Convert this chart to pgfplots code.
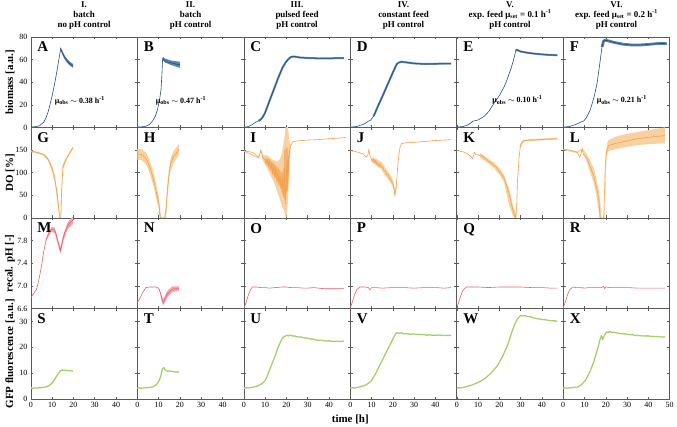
\documentclass[border=0pt]{standalone}
\usepackage{fontspec}
\setmainfont{Liberation Serif}
\usepackage{pgfplots}
\pgfplotsset{compat=1.18}
\usepgfplotslibrary{groupplots}

\definecolor{bmL}{HTML}{24507E}
\definecolor{bmB}{HTML}{5A83AD}
\definecolor{doL}{HTML}{F2A04A}
\definecolor{doB}{HTML}{F9D1A0}
\definecolor{phL}{HTML}{E3606E}
\definecolor{phB}{HTML}{F3A7AF}
\definecolor{gfL}{HTML}{98C656}
\definecolor{gfB}{HTML}{C6E09C}
\definecolor{axc}{HTML}{5A5A5A}

\tikzset{
  letter/.style={anchor=north west, inner sep=0pt, font=\fontsize{15}{15}\selectfont\bfseries},
  mu/.style={font=\fontsize{8}{9}\selectfont\bfseries},
}
\pgfplotsset{
  mline/.style={line width=0.6pt},
  bandl/.style={line width=2pt, line join=round},
  bandf/.style={draw=none, fill=#1},
  rowA/.style={ymin=0, ymax=80, ytick={0,20,40,60,80}},
  rowB/.style={ymin=0, ymax=200, ytick={0,50,100,150}},
  rowC/.style={ymin=6.6, ymax=8.2, ytick={6.6,7.0,7.4,7.8},
    yticklabel style={/pgf/number format/.cd, fixed, fixed zerofill, precision=1}},
  rowD/.style={ymin=0, ymax=35, ytick={0,10,20,30}},
}

\begin{document}
\begin{tikzpicture}
\begin{groupplot}[
  group style={group size=6 by 4, horizontal sep=0pt, vertical sep=0pt,
    x descriptions at=edge bottom, y descriptions at=edge left},
  width=107pt, height=91pt, scale only axis,
  xmin=0, xmax=50, xtick={0,10,20,30,40},
  axis line style={axc, line width=0.6pt},
  tick style={axc, line width=0.5pt},
  major tick length=2.5pt, tick align=inside,
  ticklabel style={font=\fontsize{8}{9}\selectfont},
  /pgf/number format/assume math mode=true,
  title style={font=\fontsize{9}{10}\selectfont\bfseries, align=center, inner sep=1.5pt},
  ylabel style={font=\fontsize{11}{12}\selectfont\bfseries, at={(axis description cs:-0.195,0.5)}, anchor=center},
  every axis plot/.append style={no marks},
]
% ================= ROW 1: biomass =================
\nextgroupplot[rowA, title={I.\\batch\\no pH control}, ylabel={biomass [a.u.]}]
\addplot[bandf=bmB] coordinates {(13.8,68.5)(14,70.8)(15,66.8)(16,63.2)(17,60.5)(18,58.5)(19.8,56.0)(19.8,52.6)(18,55.1)(17,57.1)(16,59.8)(15,63.2)(14,68.2)};
\addplot[mline, bmL] coordinates {(0,0.3)(2,0.6)(4,1.4)(6,4.5)(7,8)(8,13)(9,20)(10,28)(11,37)(12,47)(13,58)(13.7,66)(14,69.5)(14.3,68)(15,65)(16,61.5)(17,58.8)(18,56.8)(19,55.2)(19.8,54.3)};
\node[letter] at (rel axis cs:0.06,0.945) {A};
\node[mu] at (axis cs:23,23.5) {μ\textsubscript{obs} $\sim$ 0.38 h\textsuperscript{-1}};

\nextgroupplot[rowA, title={II.\\batch\\pH control}]
\addplot[bandf=bmB] coordinates {(11.8,58)(12,62.3)(13,60.8)(16,59)(20,58)(20,52.6)(16,55)(13,57.3)(12,59.3)};
\addplot[mline, bmL] coordinates {(0,0.3)(2,0.5)(4,1)(6,3)(7.2,5.8)(8.5,10)(9.5,16)(10.5,25)(11.1,33)(11.5,45)(11.8,58)(12,61)(12.5,59.5)(14,58)(16,57)(18,56)(20,55.3)};
\node[letter] at (rel axis cs:0.06,0.945) {B};
\node[mu] at (axis cs:20.5,23.5) {μ\textsubscript{obs} $\sim$ 0.47 h\textsuperscript{-1}};

\nextgroupplot[rowA, title={III.\\pulsed feed\\pH control}]
\addplot[bandl, bmB] coordinates {(7,5.8)(8,7)(9,9.5)(10,13)(12,23)(14,33)(16,43)(18,52)(19.5,57)(21,60.5)(22,62)(23,62.6)(24,62.5)(26,61.8)(30,61.3)(35,61)(40,61)(45,61.2)(47,61.2)};
\addplot[mline, bmL] coordinates {(0,0.2)(2,0.6)(4,2.5)(5.5,4.5)(7,5.8)(8,7)(9,9.5)(10,13)(12,23)(14,33)(16,43)(18,52)(19.5,57)(21,60.5)(22,62)(23,62.6)(24,62.5)(26,61.8)(30,61.3)(35,61)(40,61)(45,61.2)(47,61.2)};
\node[letter] at (rel axis cs:0.06,0.945) {C};

\nextgroupplot[rowA, title={IV.\\constant feed\\pH control}]
\addplot[bandl, bmB] coordinates {(11,10)(13,18.8)(15,27)(17.8,39)(20,48.5)(21.7,55.5)(22.5,57)(24,58)(26,57.5)(30,56.5)(35,56)(40,56.2)(45,56.3)(47.4,56.3)};
\addplot[mline, bmL] coordinates {(0,0.2)(3,0.8)(5,2)(7,3.5)(8.5,5.5)(9.5,6.3)(11,10)(13,18.8)(15,27)(17.8,39)(20,48.5)(21.7,55.5)(22.5,57)(24,58)(26,57.5)(30,56.5)(35,56)(40,56.2)(45,56.3)(47.4,56.3)};
\node[letter] at (rel axis cs:0.06,0.945) {D};

\nextgroupplot[rowA, title={V.\\exp. feed μ\textsubscript{set} = 0.1 h\textsuperscript{-1}\\pH control}]
\addplot[bandl, bmB] coordinates {(27.7,68)(28.3,68.5)(30,67)(33,66)(37,65)(42,64.2)(47.2,63.7)};
\addplot[mline, bmL] coordinates {(0,0.2)(3,0.8)(5,2)(6.7,4)(7.5,5.5)(8.3,5.8)(10,6.5)(13,10)(15,14)(17.6,21.7)(20,28)(22.3,36)(24,44)(24.6,47.5)(25.5,52)(26.2,56.5)(27,62)(27.7,68)(28.3,68.5)(30,67)(33,66)(37,65)(42,64.2)(47.2,63.7)};
\node[letter] at (rel axis cs:0.06,0.945) {E};
\node[mu] at (axis cs:28.5,24) {μ\textsubscript{obs} $\sim$ 0.10 h\textsuperscript{-1}};

\nextgroupplot[rowA, title={VI.\\exp. feed μ\textsubscript{set} = 0.2 h\textsuperscript{-1}\\pH control}, xtick={0,10,20,30,40,50}]
\addplot[bandl, bmB, line width=2.8pt] coordinates {(18.2,71)(19,76.5)(20,77)(22,76)(24,75)(28,73.5)(32,72.8)(36,72.8)(40,73.3)(44,74)(48.6,74.2)};
\addplot[mline, bmL] coordinates {(0,0.2)(3,0.8)(5,2)(6.5,3)(8,4.5)(9.7,5.8)(11,9)(12.8,16)(14.5,27)(15.9,39)(17,54)(18.2,71)(19,76.5)(20,77)(22,76)(24,75)(28,73.5)(32,72.8)(36,72.8)(40,73.3)(44,74)(48.6,74.2)};
\node[letter] at (rel axis cs:0.06,0.945) {F};
\node[mu] at (axis cs:27.5,24) {μ\textsubscript{obs} $\sim$ 0.21 h\textsuperscript{-1}};

% ================= ROW 2: DO =================
\nextgroupplot[rowB, ylabel={DO [\%]}]
\addplot[bandf=doB] coordinates {(0,149)(5,144)(8,133)(10,115)(11.2,95)(12.5,55)(13.4,15)(13.7,0)(14.0,0)(14.2,50)(15,118)(17.4,140)(19.8,158)(19.8,152)(17.4,134)(15,106)(14.4,30)(14.2,0)(13.5,0)(12.5,30)(11.2,79)(10,101)(8,127)(5,140)(0,145)};
\addplot[mline, doL] coordinates {(0,147)(2,146)(4,143)(5.8,141)(7,136)(8,130)(8.9,123)(10,108)(11.2,87)(12,65)(12.8,35)(13.3,12)(13.6,0)(14.1,0)(14.3,40)(14.7,85)(15.1,113)(16,125)(17.4,137)(18.5,146)(19.8,155)};
\node[letter] at (rel axis cs:0.06,0.945) {G};

\nextgroupplot[rowB]
\addplot[bandf=doB] coordinates {(0,153)(2,152)(4,145)(5.6,130)(7,110)(8,94)(9,70)(10,50)(11.2,0)(13.0,0)(13.6,40)(14.2,80)(15,112)(15.7,133)(17,148)(18.1,154)(19.6,164)(19.6,140)(18.1,128)(17,122)(15.7,106)(15,88)(14.2,48)(13.6,0)(10.4,0)(10,20)(9,40)(8,64)(7,80)(5.6,102)(4,119)(2,128)(0,129)};
\addplot[mline, doL] coordinates {(0,141)(2,140)(4,132)(5.6,116)(7,95)(7.9,79)(9,55)(10,35)(10.8,0)(12.8,0)(13.4,15)(14.2,64)(15,100)(15.7,120)(17,136)(18.1,141)(19.6,152)};
\node[letter] at (rel axis cs:0.06,0.945) {H};

\nextgroupplot[rowB]
\addplot[bandf=doB] coordinates {(0,149)(7,135)(8,151)(9,138)(10,138)(11,138)(12,135)(13,130)(14,128)(15,125)(16,125)(17,130)(18,145)(19,175)(19.8,205)(20.5,205)(21,190)(21.5,168)(22,163)(22,150)(21.5,130)(21,60)(20.5,20)(20,0)(19.5,5)(19,15)(18,25)(17,40)(16,55)(15,68)(14,80)(13,90)(12,100)(11,110)(10,118)(9,126)(8,148)(7,131)(0,146)};
\addplot[bandf=doL, fill opacity=0.6] coordinates {(10,133)(12,129)(14,121)(16,111)(17,105)(18,99)(18.8,112)(19,150)(20.5,156)(21,140)(21.3,100)(21.3,95)(20.5,60)(19.5,50)(19,40)(18,55)(17,70)(16,80)(14,95)(12,110)(10,122)};
\addplot[mline, doL] coordinates {(0,148)(3,146)(5,143)(6.5,136)(7,133)(7.5,140)(8,150)(8.5,142)(9,132)(10,128)(10.5,122)(11,128)(11.5,115)(12,125)(12.5,108)(13,120)(13.5,100)(14,115)(14.5,92)(15,108)(15.5,85)(16,100)(16.5,75)(17,95)(17.5,65)(18,90)(18.5,50)(19,110)(19.5,30)(20,120)(20.3,60)(20.7,140)(21,100)(21.5,150)(22,160)(23,168)(25,170)(30,172)(35,173)(40,175)(44,176)(48,178)};
\node[letter] at (rel axis cs:0.06,0.945) {I};

\nextgroupplot[rowB]
\addplot[bandf=doB] coordinates {(10,134)(12,131)(14.6,124)(16,114)(17.8,102)(19,93)(20.1,83)(21,62)(21.6,76)(21.6,64)(21,44)(20.1,68)(19,77)(17.8,86)(16,96)(14.6,108)(12,117)(10,124)};
\addplot[mline, doL] coordinates {(0,149)(3,146)(6,141.6)(7.6,134)(8.3,140)(8.7,151)(9.2,138)(10,129)(10.5,124)(11,130)(11.5,122)(12,127)(12.5,118)(13,122)(13.5,113)(14,119)(14.6,112)(15.2,113)(16,103)(16.6,104)(17.2,95)(17.8,96)(18.4,87)(19,85)(19.6,79)(20.1,76)(20.6,60)(20.9,52)(21.3,58)(21.6,71)(22.2,110)(22.8,138)(23.3,155)(24,164)(26,166)(30,167)(35,169)(40,171)(47.4,173)};
\node[letter] at (rel axis cs:0.06,0.945) {J};

\nextgroupplot[rowB]
\addplot[bandf=doB] coordinates {(11,143)(15,130)(17.6,122)(20,110)(22.3,94)(24,72)(25,58)(26,35)(27,18)(28,10)(28,0)(27,0)(26,10)(25,22)(24,40)(22.3,78)(20,96)(17.6,110)(15,120)(11,133)};
\addplot[bandl, doB, line width=1.8pt] coordinates {(29.8,156)(30.5,166)(31.6,171)(35,172)(40,173.5)(47.2,175)};
\addplot[mline, doL] coordinates {(0,149)(3,146)(5.1,141.6)(6.5,136)(7.5,131)(8.3,145)(9,139)(10,140)(11.4,136)(12,138)(13,131)(14,130)(15,124)(16,122)(17.6,115)(18.5,113)(20,102)(21,97)(22.3,86.6)(23.5,70)(24.6,53.5)(25.5,35)(26.2,20)(27.2,5)(27.7,0)(28.1,20)(28.5,79)(29.2,130)(29.8,156)(30.5,166)(31.6,171)(35,172)(40,173.5)(47.2,175)};
\node[letter] at (rel axis cs:0.06,0.945) {K};

\nextgroupplot[rowB, xtick={0,10,20,30,40,50}]
\addplot[bandf=doB] coordinates {(0,152)(6.5,147)(9,154)(11.2,140)(12.5,128)(14.3,110)(15.5,88)(16.7,62)(17.5,30)(18,0)(19.3,0)(19.6,90)(20,140)(20.5,163)(21.3,172)(25,180)(30,186)(35,190)(40,194)(47.8,200)(47.8,165)(40,163)(35,161)(30,157)(25,152)(21.3,148)(20.5,138)(20,106)(19.7,40)(19.5,0)(17,0)(16.5,20)(15.5,52)(14.3,78)(12.5,102)(11.2,122)(9,151)(6.5,143)(0,150)};
\addplot[mline, doL] coordinates {(0,151)(3,150)(6.5,145)(7.8,134)(8.4,143)(8.9,152.6)(9.5,140)(11.2,131)(12.5,115)(14.3,94)(15.5,70)(16.7,42.6)(17.2,10)(17.4,0)(19,0)(19.4,60)(19.8,123)(20.5,150)(21.3,160)(25,165)(30,170)(34.6,175)(40,178)(47.8,182)};
\node[letter] at (rel axis cs:0.06,0.945) {L};

% ================= ROW 3: pH =================
\nextgroupplot[rowC, ylabel={recal. pH [-]}]
\addplot[bandf=phB] coordinates {(7,7.82)(9.7,8.04)(11.2,8.03)(12.8,7.82)(13.9,7.68)(15.1,7.89)(17.4,8.13)(19.8,8.23)(19.8,8.09)(17.4,8.01)(15.1,7.77)(13.9,7.56)(12.8,7.72)(11.2,7.93)(9.7,7.96)(7,7.78)};
\addplot[mline, phL] coordinates {(0,6.79)(1,6.85)(2.7,6.94)(4,7.15)(5,7.35)(6,7.6)(7.3,7.83)(8.5,7.95)(9.7,8.0)(10.5,8.0)(11.2,7.98)(12,7.9)(12.8,7.77)(13.9,7.62)(14.5,7.72)(15.1,7.83)(16,7.95)(17.4,8.07)(18.5,8.12)(19.8,8.16)};
\node[letter] at (rel axis cs:0.06,0.945) {M};

\nextgroupplot[rowC]
\addplot[bandf=phB] coordinates {(10.3,6.95)(11.8,6.79)(12.3,6.77)(14.2,6.92)(16.5,6.99)(19.6,6.99)(19.6,6.91)(16.5,6.89)(14.2,6.80)(12.3,6.66)(11.8,6.68)(10.3,6.93)};
\addplot[mline, phL] coordinates {(0,6.70)(1.2,6.78)(2.5,6.88)(4,6.97)(6,6.98)(8.7,6.98)(9.5,6.97)(10.3,6.94)(11,6.85)(11.8,6.73)(12.3,6.71)(13,6.78)(14.2,6.86)(15.5,6.91)(16.5,6.94)(18,6.95)(19.6,6.95)};
\node[letter] at (rel axis cs:0.06,0.945) {N};

\nextgroupplot[rowC]
\addplot[mline, phL] coordinates {(0,6.6)(1,6.7)(2,6.82)(3,6.92)(4,6.98)(6,6.98)(8,6.97)(10,6.97)(12,6.96)(15,6.97)(18,6.98)(20,6.98)(22,6.97)(25,6.97)(28,6.96)(30,6.96)(33,6.97)(35,6.96)(38,6.95)(40,6.95)(44,6.95)(47,6.95)};
\node[letter] at (rel axis cs:0.06,0.945) {O};

\nextgroupplot[rowC]
\addplot[mline, phL] coordinates {(0,6.61)(1,6.72)(2,6.84)(3,6.93)(4.5,6.98)(7,6.98)(8.5,6.97)(9.2,6.93)(10,6.97)(12,6.97)(15,6.96)(20,6.97)(25,6.97)(30,6.96)(35,6.97)(40,6.97)(44,6.96)(47.4,6.97)};
\node[letter] at (rel axis cs:0.06,0.945) {P};

\nextgroupplot[rowC]
\addplot[mline, phL] coordinates {(0,6.61)(1,6.72)(2,6.84)(3,6.93)(4.5,6.98)(10,6.98)(15,6.97)(20,6.98)(25,6.98)(30,6.98)(35,6.97)(40,6.97)(44,6.96)(47.2,6.96)};
\node[letter] at (rel axis cs:0.06,0.945) {Q};

\nextgroupplot[rowC, xtick={0,10,20,30,40,50}]
\addplot[mline, phL] coordinates {(0,6.61)(1,6.72)(2,6.84)(3,6.93)(4.5,6.98)(6,6.97)(8,6.97)(10,6.96)(12,6.97)(15,6.97)(18,6.97)(19,6.99)(19.5,6.95)(20,6.98)(22,6.97)(25,6.97)(30,6.97)(35,6.96)(40,6.96)(44,6.96)(47.8,6.96)};
\node[letter] at (rel axis cs:0.06,0.945) {R};

% ================= ROW 4: GFP =================
\nextgroupplot[rowD, ylabel={GFP fluorescence [a.u.]}]
\addplot[bandl, gfB, line width=1.4pt] coordinates {(0,4.2)(3,4.3)(5,4.4)(7.3,4.7)(9,5.5)(10.4,6.6)(11.5,8)(12.8,9.8)(14,11)(15,11.2)(17,11)(19.8,10.8)};
\addplot[mline, gfL] coordinates {(0,4.2)(1,4.0)(2,4.4)(3,4.2)(4,4.5)(5,4.3)(6,4.6)(7.3,4.7)(8,5.0)(9,5.5)(10.4,6.6)(11.5,8)(12.8,9.8)(14,11)(14.7,11.3)(15.3,10.9)(16,11.3)(17,10.9)(18,11.2)(19,10.8)(19.8,10.9)};
\node[letter] at (rel axis cs:0.06,0.945) {S};

\nextgroupplot[rowD]
\addplot[bandl, gfB, line width=1.4pt] coordinates {(0,4.2)(4,4.3)(7.2,4.7)(9,5.6)(10.3,7.2)(11.2,9.5)(11.8,11.7)(12.4,12.2)(13,11.4)(14.2,10.8)(16,10.7)(18,10.5)(19.6,10.4)};
\addplot[mline, gfL] coordinates {(0,4.2)(1,4.4)(2,4.1)(3,4.4)(4,4.3)(5,4.5)(6,4.5)(7.2,4.7)(8,5.0)(9,5.6)(10.3,7.2)(11.2,9.5)(11.8,11.7)(12.4,12.2)(13,11.4)(13.6,11.0)(14.2,10.8)(15,11.0)(16,10.6)(17,10.8)(18,10.4)(19,10.6)(19.6,10.4)};
\node[letter] at (rel axis cs:0.06,0.945) {T};

\nextgroupplot[rowD]
\addplot[bandl, gfB, line width=1.4pt] coordinates {(0,4.2)(3,4.4)(5,4.7)(7,5.3)(9,6.3)(10.1,7.2)(12,11)(14.8,16.9)(16,19.8)(17.9,23.3)(19,24.2)(20.2,24.6)(22,24.6)(25.6,24)(30,23.5)(35,22.7)(40,22.4)(44,22.3)(47,22.4)};
\addplot[mline, gfL] coordinates {(0,4.2)(1,4.5)(2,4.2)(3,4.5)(4,4.4)(5,4.8)(6,4.7)(7,5.3)(8,5.6)(9,6.3)(10.1,7.2)(12,11)(14.8,16.9)(16,19.8)(17.9,23.3)(19,24.2)(20.2,24.6)(21,24.3)(22,24.8)(23,24.3)(24,24.4)(25.6,24)(27,24.1)(28,23.6)(30,23.6)(31,23.2)(33,23.2)(35,22.7)(36,22.9)(38,22.4)(40,22.6)(42,22.2)(44,22.4)(45,22.1)(47,22.4)};
\node[letter] at (rel axis cs:0.06,0.945) {U};

\nextgroupplot[rowD]
\addplot[bandl, gfB, line width=1.4pt] coordinates {(0,4.2)(3,4.4)(6.9,5.3)(9,6.4)(10,7.2)(12,10)(14.6,14.3)(17,18.3)(19.3,22)(20.5,24)(21.6,25.6)(24,25.5)(27,25.2)(32,25)(37,24.8)(42,24.7)(47.4,24.6)};
\addplot[mline, gfL] coordinates {(0,4.2)(1,4.5)(2,4.2)(3,4.5)(4,4.6)(5,4.8)(6.9,5.3)(8,5.8)(9,6.4)(10,7.2)(12,10)(14.6,14.3)(17,18.3)(19.3,22)(20.5,24)(21.6,25.6)(23,25.3)(24,25.7)(25,25.1)(27,25.4)(28,24.9)(30,25.2)(32,24.9)(34,25.0)(36,24.6)(37,24.9)(39,24.5)(42,24.8)(44,24.4)(46,24.7)(47.4,24.6)};
\node[letter] at (rel axis cs:0.06,0.945) {V};

\nextgroupplot[rowD]
\addplot[bandl, gfB, line width=1.4pt] coordinates {(0,4.2)(3,4.5)(6.7,5.3)(10,6.4)(13,7.8)(16,10)(19.2,13)(21.5,16.5)(23.8,20.7)(25.5,25)(27,28.5)(28.5,31)(30,32.3)(32,32.2)(34.7,31.7)(38,31)(42,30.5)(47.2,30)};
\addplot[mline, gfL] coordinates {(0,4.2)(1,4.5)(2,4.2)(3,4.6)(4,4.6)(5,5.0)(6.7,5.3)(8,5.7)(10,6.4)(11.5,7.0)(13,7.8)(14.5,8.8)(16,10)(17.5,11.3)(19.2,13)(21.5,16.5)(23.8,20.7)(25.5,25)(27,28.5)(28.5,31)(30,32.3)(31,32.0)(32,32.4)(33,31.8)(34.7,31.9)(36,31.3)(38,31.2)(40,30.7)(42,30.7)(44,30.2)(46,30.4)(47.2,30)};
\node[letter] at (rel axis cs:0.06,0.945) {W};

\nextgroupplot[rowD, xtick={0,10,20,30,40,50}]
\addplot[bandl, gfB, line width=1.4pt] coordinates {(0,4.2)(3,4.3)(6.5,4.6)(8.5,5.5)(10.4,7.2)(12.5,10.5)(14.3,14.3)(16,19)(17.4,23.3)(18,24.5)(18.5,23)(19,24)(20.2,25.9)(22,26)(26.5,25.3)(30,25)(35,24.5)(40,24.3)(47.8,24)};
\addplot[mline, gfL] coordinates {(0,4.2)(1,4.4)(2,4.1)(3,4.4)(4,4.3)(5,4.6)(6.5,4.6)(7.5,5.0)(8.5,5.5)(10.4,7.2)(12.5,10.5)(14.3,14.3)(16,19)(17.4,23.3)(18,24.5)(18.5,23)(19,24)(20.2,25.9)(21,25.6)(22,26.2)(23,25.6)(24,25.9)(26.5,25.3)(28,25.5)(30,25)(32,25.1)(34,24.6)(35,24.8)(37,24.4)(40,24.5)(42,24.1)(44,24.3)(46,23.9)(47.8,24.1)};
\node[letter] at (rel axis cs:0.06,0.945) {X};
\end{groupplot}
\node[anchor=north, font=\fontsize{11}{12}\selectfont\bfseries] at ([yshift=-12pt]group c3r4.south east) {time [h]};
\path ([xshift=-31pt,yshift=33pt]group c1r1.north west) rectangle ([xshift=4pt,yshift=-28pt]group c6r4.south east);
\end{tikzpicture}
\end{document}
